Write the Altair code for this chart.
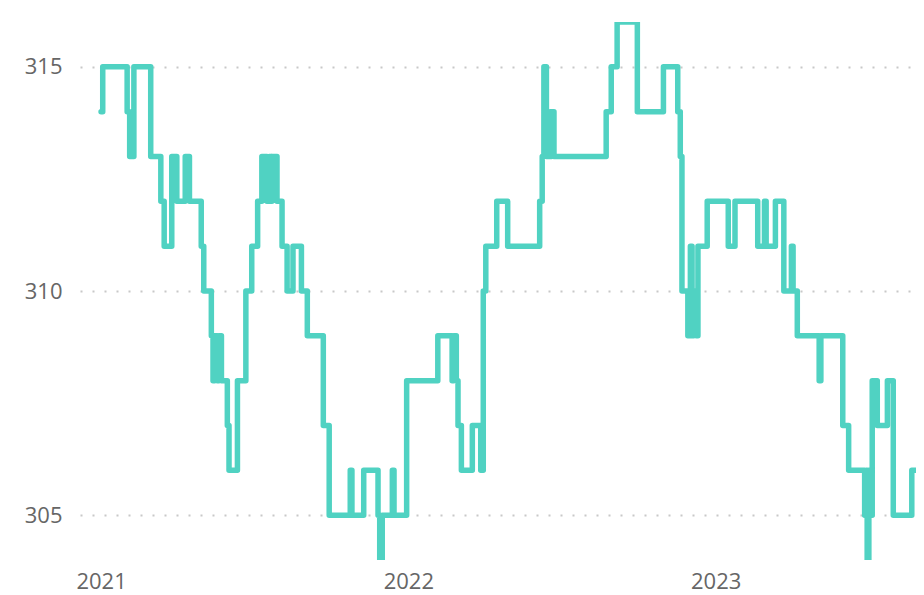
import altair as alt
import pandas as pd

# change points of the step series (date the value starts, value)
dates = [
    "2021-01-01", "2021-01-03", "2021-02-01", "2021-02-04", "2021-02-09",
    "2021-03-01", "2021-03-13", "2021-03-17", "2021-03-26", "2021-04-01",
    "2021-04-11", "2021-04-16", "2021-04-30", "2021-05-03", "2021-05-12",
    "2021-05-14", "2021-05-16", "2021-05-19", "2021-05-21", "2021-05-24",
    "2021-05-31", "2021-06-02", "2021-06-12", "2021-06-22", "2021-06-29",
    "2021-07-06", "2021-07-11", "2021-07-17", "2021-07-20", "2021-07-22",
    "2021-07-23", "2021-07-29", "2021-08-04", "2021-08-10", "2021-08-17",
    "2021-08-27", "2021-09-03", "2021-09-22", "2021-09-29", "2021-10-24",
    "2021-10-26", "2021-11-09", "2021-11-26", "2021-11-28", "2021-12-01",
    "2021-12-13", "2021-12-15", "2021-12-30", "2022-02-05", "2022-02-22",
    "2022-02-24", "2022-02-27", "2022-03-01", "2022-03-05", "2022-03-18",
    "2022-03-28", "2022-03-31", "2022-04-03", "2022-04-16", "2022-04-29",
    "2022-06-06", "2022-06-09", "2022-06-11", "2022-06-14", "2022-06-15",
    "2022-06-17", "2022-06-20", "2022-06-23", "2022-08-24", "2022-08-30",
    "2022-09-06", "2022-09-30", "2022-10-31", "2022-11-17", "2022-11-20",
    "2022-11-22", "2022-11-29", "2022-12-02", "2022-12-04", "2022-12-06",
    "2022-12-09", "2022-12-11", "2022-12-22", "2023-01-16", "2023-01-24",
    "2023-02-20", "2023-02-28", "2023-03-02", "2023-03-13", "2023-03-23",
    "2023-04-01", "2023-04-03", "2023-04-08", "2023-05-04", "2023-05-06",
    "2023-06-01", "2023-06-08", "2023-06-27", "2023-06-29", "2023-06-30",
    "2023-07-02", "2023-07-03", "2023-07-06", "2023-07-12", "2023-07-24",
    "2023-07-31", "2023-08-22", "2023-09-10",
]
values = [
    314, 315, 314, 313, 315,
    313, 312, 311, 313, 312,
    313, 312, 311, 310, 309,
    308, 309, 308, 309, 308,
    307, 306, 308, 310, 311,
    312, 313, 312, 313, 312,
    313, 312, 311, 310, 311,
    310, 309, 307, 305, 306,
    305, 306, 305, 304, 305,
    306, 305, 308, 309, 308,
    309, 308, 307, 306, 307,
    306, 310, 311, 312, 311,
    312, 313, 315, 313, 314,
    313, 314, 313, 314, 315,
    316, 314, 315, 314, 313,
    310, 309, 311, 309, 310,
    309, 311, 312, 311, 312,
    311, 312, 311, 312, 310,
    311, 310, 309, 308, 309,
    307, 306, 305, 306, 304,
    306, 305, 308, 307, 308,
    305, 306, 306,
]

y_ticks = [305, 310, 315]
x_tick_years = [2021, 2022, 2023]

df = pd.DataFrame({"date": dates, "value": values})

font = "Segoe UI, Open Sans, Noto Sans, sans-serif"

chart = (
    alt.Chart(df)
    .mark_line(
        interpolate="step-after",
        color="#50D2C2",
        strokeWidth=5.5,
        strokeJoin="round",
        strokeCap="round",
        clip=True,
    )
    .encode(
        x=alt.X(
            "date:T",
            scale=alt.Scale(
                type="utc",
                domain=[
                    alt.DateTime(year=2020, month=12, date=7, utc=True),
                    alt.DateTime(year=2023, month=8, date=27, utc=True),
                ],
            ),
            axis=alt.Axis(
                title=None,
                values=[alt.DateTime(year=y, month=1, date=1, utc=True) for y in x_tick_years],
                format="%Y",
                grid=False,
                domain=False,
                ticks=False,
                labelPadding=11,
                labelFontSize=22,
                labelFont=font,
                labelColor="#666666",
            ),
        ),
        y=alt.Y(
            "value:Q",
            scale=alt.Scale(domain=[304, 316], nice=False, zero=False),
            axis=alt.Axis(
                title=None,
                values=y_ticks,
                grid=True,
                gridColor="#c8c8c8",
                gridDash=[2, 10],
                gridWidth=2,
                domain=False,
                ticks=False,
                labelPadding=18,
                labelFontSize=22,
                labelFont=font,
                labelColor="#666666",
            ),
        ),
    )
    .properties(
        width=836,
        height=538,
        autosize=alt.AutoSizeParams(type="none"),
        padding={"left": 72, "top": 14, "right": 0, "bottom": 35},
    )
    .configure_view(stroke=None)
)

chart.save("out.html", embed_options={"renderer": "svg", "actions": False})
